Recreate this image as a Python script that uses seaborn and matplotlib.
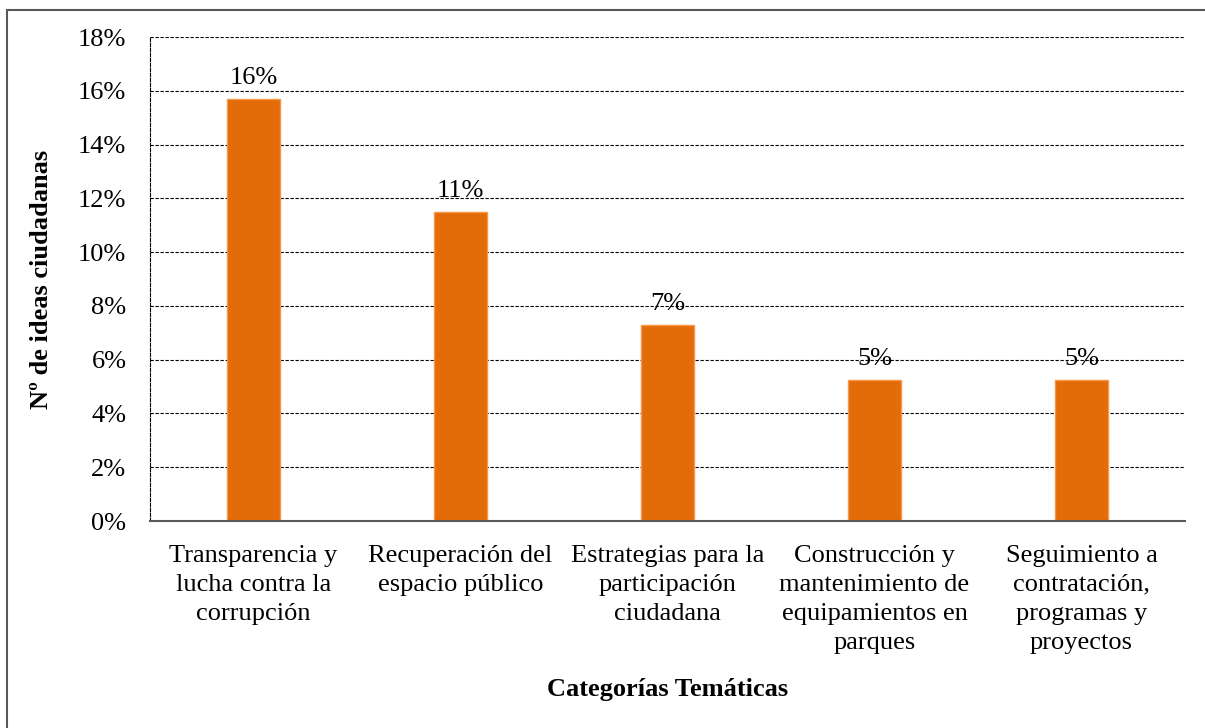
import matplotlib
matplotlib.use("Agg")
import matplotlib.pyplot as plt
import matplotlib.patches as mpatches
from matplotlib.ticker import FuncFormatter
import seaborn as sns
import pandas as pd

# Datos
categorias = [
    "Transparencia y\nlucha contra la\ncorrupción",
    "Recuperación del\nespacio público",
    "Estrategias para la\nparticipación\nciudadana",
    "Construcción y\nmantenimiento de\nequipamientos en\nparques",
    "Seguimiento a\ncontratación,\nprogramas y\nproyectos",
]
porcentajes = [15.7, 11.5, 7.3, 5.25, 5.25]
etiquetas = ["16%", "11%", "7%", "5%", "5%"]

df = pd.DataFrame({"categoria": categorias, "pct": porcentajes})

sns.set_style("white")
plt.rcParams["font.family"] = ["Liberation Serif", "DejaVu Serif"]
plt.rcParams["text.color"] = "black"
plt.rcParams["axes.labelcolor"] = "black"
plt.rcParams["xtick.color"] = "black"
plt.rcParams["ytick.color"] = "black"

fs = 19

fig = plt.figure(figsize=(12.05, 7.28), dpi=100)
ax = fig.add_axes([150 / 1205, 1 - 521 / 728, 1035 / 1205, 484 / 728])

sns.barplot(data=df, x="categoria", y="pct", color="#E36C09", width=0.26,
            edgecolor="#F79646", linewidth=1, saturation=1, ax=ax, zorder=3)

ax.set_ylim(0, 18)
ax.set_yticks(range(0, 19, 2))
ax.yaxis.set_major_formatter(FuncFormatter(lambda v, p: f"{v:.0f}%"))
ax.grid(axis="y", color="black", linestyle=(0, (3, 1.5)), linewidth=0.8, zorder=0)
ax.tick_params(axis="y", labelsize=fs, length=5, width=0.8, pad=12)
ax.tick_params(axis="x", labelsize=fs, length=0, pad=17)
for lbl in ax.get_xticklabels():
    lbl.set_linespacing(1.42)

for s in ["top", "right"]:
    ax.spines[s].set_visible(False)
ax.spines["left"].set_linestyle((0, (3, 1.5)))
ax.spines["left"].set_color("black")
ax.spines["left"].set_linewidth(0.8)
ax.spines["bottom"].set_color("#595959")
ax.spines["bottom"].set_linewidth(1.5)
ax.spines["bottom"].set_zorder(4)

for i, (v, t) in enumerate(zip(porcentajes, etiquetas)):
    ax.text(i, v + 0.35, t, ha="center", va="bottom", fontsize=fs, zorder=5)

ax.set_xlabel("Categorías Temáticas", fontsize=fs, fontweight="bold", labelpad=17.5)
ax.set_ylabel("Nº de ideas ciudadanas", fontsize=fs, fontweight="bold", labelpad=18)

# marco recortado
fig.patches.append(mpatches.Rectangle((7 / 1205, -0.1), 1.2, 1 - 10 / 728 + 0.1,
                                      transform=fig.transFigure, fill=False,
                                      edgecolor="#595959", linewidth=1.5))

fig.savefig("out.png", dpi=100)
